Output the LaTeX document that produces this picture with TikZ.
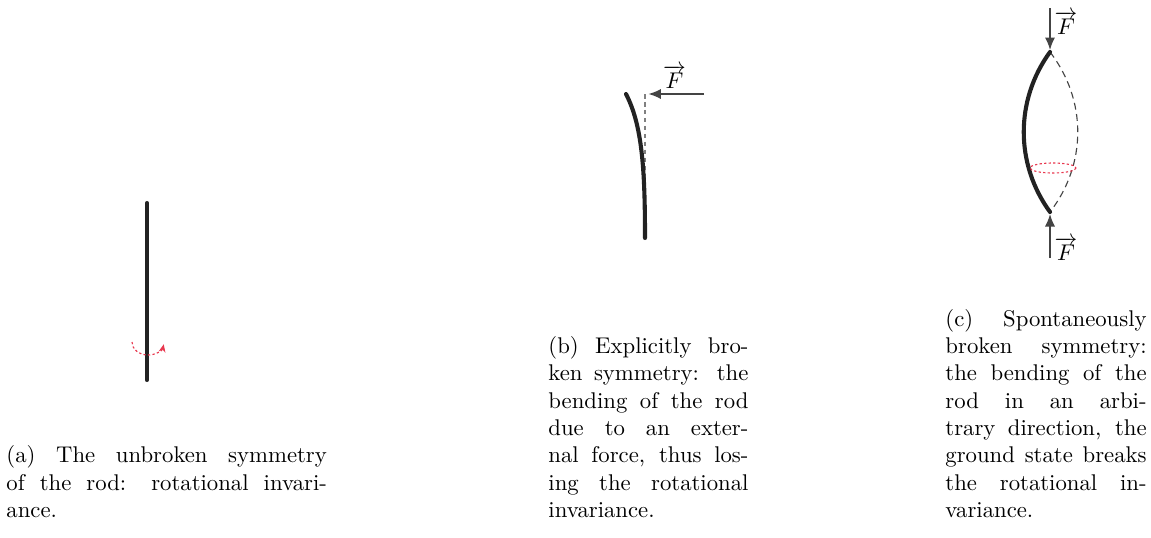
\documentclass[tikz,border=0pt]{standalone}
\usepackage{amsmath}
\usepackage{xcolor}
\usetikzlibrary{arrows.meta, positioning, calc}

\definecolor{rodgray}{HTML}{222222}
\definecolor{forcegray}{HTML}{444444}
\definecolor{spinred}{HTML}{E8384F}

\begin{document}
\begin{tikzpicture}[x=0.44pt, y=-0.44pt,
    rod/.style={line width=1.8pt, rodgray, line cap=round},
    rest/.style={gray, line width=0.5pt, dash pattern=on 2pt off 1.5pt},
    force/.style={-{Latex[length=5.5pt, width=4.5pt]}, forcegray, line width=0.7pt},
    spin/.style={spinred, line width=0.5pt, dash pattern=on 1pt off 1pt},
    flabel/.style={text=black, inner sep=1pt},
    caption/.style={anchor=south west, inner sep=0pt, align=justify}
  ]
  \useasboundingbox (0,0) rectangle (1151,537);

  % --- (a) unbroken symmetry ---
  \coordinate (A top) at (147,203);
  \coordinate (A bot) at (147,380);
  \draw[rod] (A top) -- (A bot);
  \draw[spin, -{Stealth[length=3.5pt, width=3pt]}] (132,342) arc[start angle=180, end angle=10, x radius=16, y radius=13];
  \node[caption, text width=141pt] (capA) at (6,518)
    {(a) The unbroken symmetry\linebreak of the rod: rotational invari-\linebreak ance.};

  % --- (b) explicitly broken symmetry ---
  \coordinate (B base) at (645,238);
  \coordinate (B tip) at (626,94);
  \coordinate (B rest) at (645,94);
  \coordinate (B rest end) at (645,182);
  \coordinate (B push) at (704,94);
  \draw[rest] (B rest) -- (B rest end);
  \draw[rod] (B base) .. controls (645,168) and (642,125) .. (B tip);
  \draw[force, shorten >=1.5pt] (B push) -- node[flabel, above=1pt] (FB) {$\overrightarrow{F}$} (B rest);
  \node[caption, text width=88pt] (capB) at (548,518)
    {(b) Explicitly bro-\linebreak ken symmetry: the\linebreak bending of the rod\linebreak due to an exter-\linebreak nal force, thus los-\linebreak ing the rotational\linebreak invariance.};

  % --- (c) spontaneously broken symmetry ---
  \coordinate (C top) at (1050,52);
  \coordinate (C bot) at (1050,212);
  \coordinate (C push top) at (1050,8);
  \coordinate (C push bot) at (1050,258);
  \draw[rest, forcegray, dash pattern=on 3pt off 2pt] (C top) .. controls (1087,100) and (1087,164) .. (C bot);
  \draw[rod] (C top) .. controls (1015,100) and (1015,164) .. (C bot);
  \draw[spin] (1053,168) ellipse [x radius=23, y radius=5];
  \draw[force] (C push top) -- ($(C top)+(0,-2)$);
  \draw[force] (C push bot) -- ($(C bot)+(0,2)$);
  \node[flabel, anchor=west] (FCtop) at (1052,23) {$\overrightarrow{F}$};
  \node[flabel, anchor=west] (FCbot) at (1052,249) {$\overrightarrow{F}$};
  \node[caption, text width=88.5pt] (capC) at (945,518)
    {(c) Spontaneously\linebreak broken symmetry:\linebreak the bending of the\linebreak rod in an arbi-\linebreak trary direction, the\linebreak ground state breaks\linebreak the rotational in-\linebreak variance.};
\end{tikzpicture}
\end{document}
